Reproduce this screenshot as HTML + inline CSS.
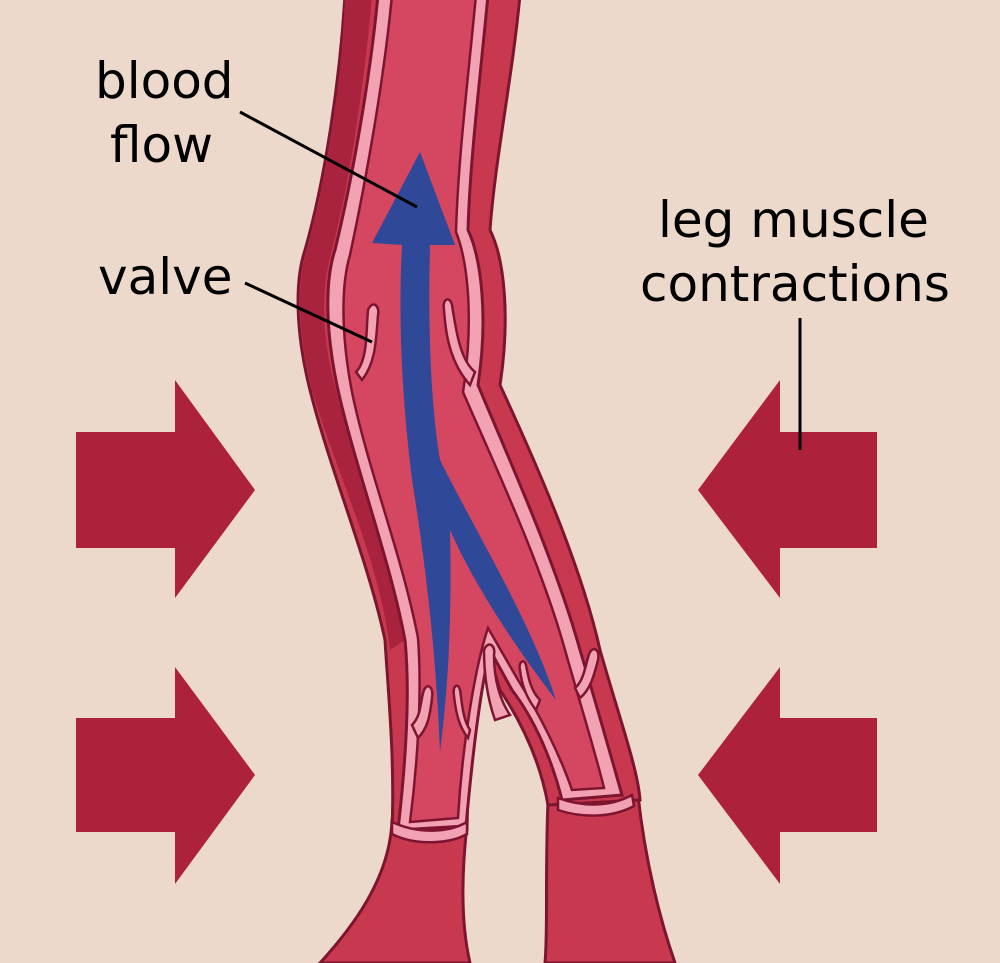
<!DOCTYPE html>
<html><head><meta charset="utf-8"><style>
html,body{margin:0;padding:0;background:#ecd9cb;}
svg{display:block}
text{font-family:"DejaVu Sans","Liberation Sans",sans-serif;font-size:50px;fill:#000}
</style></head><body>
<svg width="1000" height="963" viewBox="0 0 1000 963" xmlns="http://www.w3.org/2000/svg">
<rect width="1000" height="963" fill="#ecd9cb"/>
<g fill="#ae213b">
<path d="M76,432 H175 V380 L255,490 L175,598 V548 H76 Z"/>
<path d="M76,718 H175 V667 L255,775 L175,884 V832 H76 Z"/>
<path d="M877,432 H780 V380 L698,490 L780,598 V548 H877 Z"/>
<path d="M877,718 H780 V667 L698,775 L780,884 V832 H877 Z"/>
</g>
<path d="M392,820 C390,880 350,930 320,963 L470,963 C460,920 462,870 467,825 Z" fill="#c8394f" stroke="#7d1530" stroke-width="3"/>
<path d="M548,800 C545,880 548,930 545,963 L675,963 C660,920 645,860 638,795 Z" fill="#c8394f" stroke="#7d1530" stroke-width="3"/>
<path d="M345,-5 L520,-5 C512,80 495,160 490,230 C505,260 510,320 500,385 C530,450 580,560 600,650 C620,720 638,770 640,800 L548,805 C540,760 520,720 500,690 L485,640 C476,680 468,760 467,830 L392,830 C395,760 388,690 385,640 C368,560 330,470 310,390 C295,330 295,280 305,250 C325,180 340,80 345,-5 Z" fill="#c8394f" stroke="#7d1530" stroke-width="3"/>
<path d="M345,-5 L372,-5 C365,80 350,180 332,250 C320,290 322,340 336,390 C356,470 392,560 405,640 L390,650 C380,560 335,470 312,390 C297,330 297,280 307,250 C327,180 342,80 345,-5 Z" fill="#a9233f"/>
<path d="M378,-5 L488,-5 C480,80 470,160 468,230 C482,260 488,320 478,385 C505,450 555,560 580,650 C598,710 612,760 622,795 L562,800 C552,760 535,720 512,690 L490,650 C480,690 472,760 466,826 L398,830 C406,760 410,690 405,640 C390,560 356,470 338,390 C325,330 325,280 335,250 C352,180 370,80 378,-5 Z" fill="#f2a2b3" stroke="#7d1530" stroke-width="3"/>
<path d="M392,-5 L476,-5 C468,80 458,160 456,232 C468,262 474,320 463,392 C490,455 540,560 565,650 C582,710 596,755 604,788 L572,790 C560,755 540,715 518,680 L488,628 C474,670 462,750 458,818 L410,822 C418,760 422,690 418,638 C402,555 368,470 352,392 C341,335 341,285 350,255 C366,180 384,80 392,-5 Z" fill="#d54661" stroke="#7d1530" stroke-width="2.5"/>
<path d="M392,822 C420,835 450,832 467,822 L467,834 C450,844 415,846 392,834 Z" fill="#f2a2b3" stroke="#7d1530" stroke-width="2.5"/>
<path d="M558,798 C585,808 612,806 632,795 L634,806 C612,818 582,818 558,810 Z" fill="#f2a2b3" stroke="#7d1530" stroke-width="2.5"/>
<g fill="#f2a2b3" stroke="#7d1530" stroke-width="2.5">
<path d="M356,372 C368,360 366,330 368,310 C372,300 380,305 378,315 C376,340 376,362 362,380 Z"/>
<path d="M475,372 C460,360 456,330 452,305 C450,296 442,298 444,310 C446,340 452,365 470,385 Z"/>
<path d="M412,725 C422,715 420,700 424,690 C428,682 434,688 432,698 C430,715 428,728 418,738 Z"/>
<path d="M470,730 C462,718 462,700 460,690 C458,682 452,686 454,696 C456,715 460,728 468,738 Z"/>
<path d="M495,720 C488,700 484,675 484,650 C488,640 496,645 494,655 C494,680 500,700 510,715 Z"/>
<path d="M540,700 C530,690 528,675 526,665 C524,658 518,662 520,670 C522,688 528,700 536,710 Z"/>
<path d="M575,688 C585,680 586,660 590,652 C594,646 600,650 598,660 C594,676 590,690 580,698 Z"/>
</g>
<path d="M440,752 C436,650 425,560 412,480 C402,400 398,320 402,245 L372,243 L420,152 L455,245 L430,245 C428,320 430,400 440,460 C480,540 530,620 556,700 C510,640 472,580 450,530 C452,620 448,690 440,752 Z" fill="#2f4898"/>
<g stroke="#000" stroke-width="3" fill="none">
<line x1="240" y1="112" x2="417" y2="207"/>
<line x1="245" y1="283" x2="372" y2="342"/>
<line x1="800" y1="318" x2="800" y2="450"/>
</g>
<text x="95" y="98">blood</text>
<text x="110" y="162">flow</text>
<text x="98" y="294">valve</text>
<text x="658" y="237">leg muscle</text>
<text x="640" y="301">contractions</text>
</svg>
</body></html>
